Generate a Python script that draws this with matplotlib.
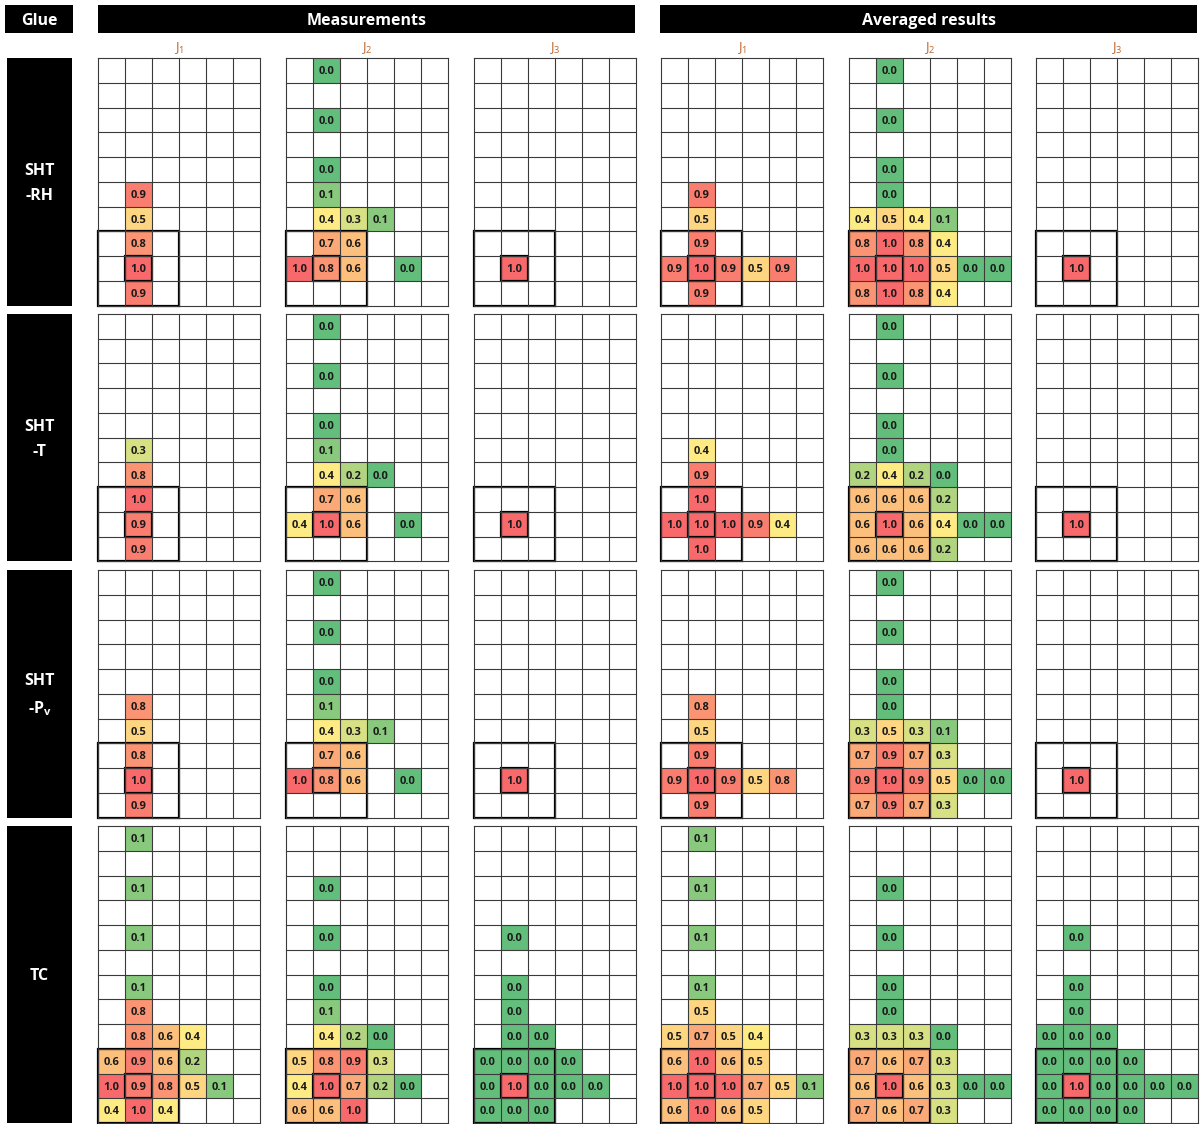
import numpy as np
import matplotlib
matplotlib.use('Agg')
import matplotlib.pyplot as plt
from matplotlib.patches import Rectangle
from matplotlib.colors import LinearSegmentedColormap, Normalize

_ = None

# ---- data: normalised values per grid (rows top->bottom, 6 columns) ----
rh_meas_j1 = [[_]*6]*5 + [
    [_, 0.9, _, _, _, _],
    [_, 0.5, _, _, _, _],
    [_, 0.8, _, _, _, _],
    [_, 1.0, _, _, _, _],
    [_, 0.9, _, _, _, _]]
rh_meas_j2 = [
    [_, 0.0, _, _, _, _],
    [_, _, _, _, _, _],
    [_, 0.0, _, _, _, _],
    [_, _, _, _, _, _],
    [_, 0.0, _, _, _, _],
    [_, 0.1, _, _, _, _],
    [_, 0.4, 0.3, 0.1, _, _],
    [_, 0.7, 0.6, _, _, _],
    [1.0, 0.8, 0.6, _, 0.0, _],
    [_, _, _, _, _, _]]
rh_meas_j3 = [[_]*6]*8 + [[_, 1.0, _, _, _, _], [_]*6]
rh_avg_j1 = [[_]*6]*5 + [
    [_, 0.9, _, _, _, _],
    [_, 0.5, _, _, _, _],
    [_, 0.9, _, _, _, _],
    [0.9, 1.0, 0.9, 0.5, 0.9, _],
    [_, 0.9, _, _, _, _]]
rh_avg_j2 = [
    [_, 0.0, _, _, _, _],
    [_, _, _, _, _, _],
    [_, 0.0, _, _, _, _],
    [_, _, _, _, _, _],
    [_, 0.0, _, _, _, _],
    [_, 0.0, _, _, _, _],
    [0.4, 0.5, 0.4, 0.1, _, _],
    [0.8, 1.0, 0.8, 0.4, _, _],
    [1.0, 1.0, 1.0, 0.5, 0.0, 0.0],
    [0.8, 1.0, 0.8, 0.4, _, _]]
rh_avg_j3 = [[_]*6]*8 + [[_, 1.0, _, _, _, _], [_]*6]

t_meas_j1 = [[_]*6]*5 + [
    [_, 0.3, _, _, _, _],
    [_, 0.8, _, _, _, _],
    [_, 1.0, _, _, _, _],
    [_, 0.9, _, _, _, _],
    [_, 0.9, _, _, _, _]]
t_meas_j2 = [
    [_, 0.0, _, _, _, _],
    [_, _, _, _, _, _],
    [_, 0.0, _, _, _, _],
    [_, _, _, _, _, _],
    [_, 0.0, _, _, _, _],
    [_, 0.1, _, _, _, _],
    [_, 0.4, 0.2, 0.0, _, _],
    [_, 0.7, 0.6, _, _, _],
    [0.4, 1.0, 0.6, _, 0.0, _],
    [_, _, _, _, _, _]]
t_meas_j3 = [[_]*6]*8 + [[_, 1.0, _, _, _, _], [_]*6]
t_avg_j1 = [[_]*6]*5 + [
    [_, 0.4, _, _, _, _],
    [_, 0.9, _, _, _, _],
    [_, 1.0, _, _, _, _],
    [1.0, 1.0, 1.0, 0.9, 0.4, _],
    [_, 1.0, _, _, _, _]]
t_avg_j2 = [
    [_, 0.0, _, _, _, _],
    [_, _, _, _, _, _],
    [_, 0.0, _, _, _, _],
    [_, _, _, _, _, _],
    [_, 0.0, _, _, _, _],
    [_, 0.0, _, _, _, _],
    [0.2, 0.4, 0.2, 0.0, _, _],
    [0.6, 0.6, 0.6, 0.2, _, _],
    [0.6, 1.0, 0.6, 0.4, 0.0, 0.0],
    [0.6, 0.6, 0.6, 0.2, _, _]]
t_avg_j3 = [[_]*6]*8 + [[_, 1.0, _, _, _, _], [_]*6]

pv_meas_j1 = [[_]*6]*5 + [
    [_, 0.8, _, _, _, _],
    [_, 0.5, _, _, _, _],
    [_, 0.8, _, _, _, _],
    [_, 1.0, _, _, _, _],
    [_, 0.9, _, _, _, _]]
pv_meas_j2 = [
    [_, 0.0, _, _, _, _],
    [_, _, _, _, _, _],
    [_, 0.0, _, _, _, _],
    [_, _, _, _, _, _],
    [_, 0.0, _, _, _, _],
    [_, 0.1, _, _, _, _],
    [_, 0.4, 0.3, 0.1, _, _],
    [_, 0.7, 0.6, _, _, _],
    [1.0, 0.8, 0.6, _, 0.0, _],
    [_, _, _, _, _, _]]
pv_meas_j3 = [[_]*6]*8 + [[_, 1.0, _, _, _, _], [_]*6]
pv_avg_j1 = [[_]*6]*5 + [
    [_, 0.8, _, _, _, _],
    [_, 0.5, _, _, _, _],
    [_, 0.9, _, _, _, _],
    [0.9, 1.0, 0.9, 0.5, 0.8, _],
    [_, 0.9, _, _, _, _]]
pv_avg_j2 = [
    [_, 0.0, _, _, _, _],
    [_, _, _, _, _, _],
    [_, 0.0, _, _, _, _],
    [_, _, _, _, _, _],
    [_, 0.0, _, _, _, _],
    [_, 0.0, _, _, _, _],
    [0.3, 0.5, 0.3, 0.1, _, _],
    [0.7, 0.9, 0.7, 0.3, _, _],
    [0.9, 1.0, 0.9, 0.5, 0.0, 0.0],
    [0.7, 0.9, 0.7, 0.3, _, _]]
pv_avg_j3 = [[_]*6]*8 + [[_, 1.0, _, _, _, _], [_]*6]

tc_meas_j1 = [
    [_, 0.1, _, _, _, _],
    [_, _, _, _, _, _],
    [_, 0.1, _, _, _, _],
    [_, _, _, _, _, _],
    [_, 0.1, _, _, _, _],
    [_, _, _, _, _, _],
    [_, 0.1, _, _, _, _],
    [_, 0.8, _, _, _, _],
    [_, 0.8, 0.6, 0.4, _, _],
    [0.6, 0.9, 0.6, 0.2, _, _],
    [1.0, 0.9, 0.8, 0.5, 0.1, _],
    [0.4, 1.0, 0.4, _, _, _]]
tc_meas_j2 = [
    [_, _, _, _, _, _],
    [_, _, _, _, _, _],
    [_, 0.0, _, _, _, _],
    [_, _, _, _, _, _],
    [_, 0.0, _, _, _, _],
    [_, _, _, _, _, _],
    [_, 0.0, _, _, _, _],
    [_, 0.1, _, _, _, _],
    [_, 0.4, 0.2, 0.0, _, _],
    [0.5, 0.8, 0.9, 0.3, _, _],
    [0.4, 1.0, 0.7, 0.2, 0.0, _],
    [0.6, 0.6, 1.0, _, _, _]]
tc_meas_j3 = [
    [_, _, _, _, _, _],
    [_, _, _, _, _, _],
    [_, _, _, _, _, _],
    [_, _, _, _, _, _],
    [_, 0.0, _, _, _, _],
    [_, _, _, _, _, _],
    [_, 0.0, _, _, _, _],
    [_, 0.0, _, _, _, _],
    [_, 0.0, 0.0, _, _, _],
    [0.0, 0.0, 0.0, 0.0, _, _],
    [0.0, 1.0, 0.0, 0.0, 0.0, _],
    [0.0, 0.0, 0.0, _, _, _]]
tc_avg_j1 = [
    [_, 0.1, _, _, _, _],
    [_, _, _, _, _, _],
    [_, 0.1, _, _, _, _],
    [_, _, _, _, _, _],
    [_, 0.1, _, _, _, _],
    [_, _, _, _, _, _],
    [_, 0.1, _, _, _, _],
    [_, 0.5, _, _, _, _],
    [0.5, 0.7, 0.5, 0.4, _, _],
    [0.6, 1.0, 0.6, 0.5, _, _],
    [1.0, 1.0, 1.0, 0.7, 0.5, 0.1],
    [0.6, 1.0, 0.6, 0.5, _, _]]
tc_avg_j2 = [
    [_, _, _, _, _, _],
    [_, _, _, _, _, _],
    [_, 0.0, _, _, _, _],
    [_, _, _, _, _, _],
    [_, 0.0, _, _, _, _],
    [_, _, _, _, _, _],
    [_, 0.0, _, _, _, _],
    [_, 0.0, _, _, _, _],
    [0.3, 0.3, 0.3, 0.0, _, _],
    [0.7, 0.6, 0.7, 0.3, _, _],
    [0.6, 1.0, 0.6, 0.3, 0.0, 0.0],
    [0.7, 0.6, 0.7, 0.3, _, _]]
tc_avg_j3 = [
    [_, _, _, _, _, _],
    [_, _, _, _, _, _],
    [_, _, _, _, _, _],
    [_, _, _, _, _, _],
    [_, 0.0, _, _, _, _],
    [_, _, _, _, _, _],
    [_, 0.0, _, _, _, _],
    [_, 0.0, _, _, _, _],
    [0.0, 0.0, 0.0, _, _, _],
    [0.0, 0.0, 0.0, 0.0, _, _],
    [0.0, 1.0, 0.0, 0.0, 0.0, 0.0],
    [0.0, 0.0, 0.0, 0.0, _, _]]

glue_labels = ['SHT\n-RH', 'SHT\n-T', 'SHT\n-P$_\\mathregular{v}$', 'TC']
section_titles = ['Measurements', 'Averaged results']
joint_labels = ['J$_\\mathregular{1}$', 'J$_\\mathregular{2}$', 'J$_\\mathregular{3}$']

grids = [
    [rh_meas_j1, rh_meas_j2, rh_meas_j3, rh_avg_j1, rh_avg_j2, rh_avg_j3],
    [t_meas_j1, t_meas_j2, t_meas_j3, t_avg_j1, t_avg_j2, t_avg_j3],
    [pv_meas_j1, pv_meas_j2, pv_meas_j3, pv_avg_j1, pv_avg_j2, pv_avg_j3],
    [tc_meas_j1, tc_meas_j2, tc_meas_j3, tc_avg_j1, tc_avg_j2, tc_avg_j3],
]

# ---- layout (pixels) ----
W, H = 1200, 1124
grid_x = [98, 286, 474, 661, 849, 1036]
grid_w = 162
group_y = [58, 314, 570, 826]
row_h = 24.75

plt.rcParams['font.family'] = ['Open Sans', 'DejaVu Sans']
plt.rcParams['mathtext.fontset'] = 'custom'
plt.rcParams['mathtext.rm'] = 'Open Sans'

cmap = LinearSegmentedColormap.from_list(
    'excel3', [(0.0, '#63BE7B'), (0.4, '#FFEB84'), (1.0, '#F8696B')])
norm = Normalize(0, 1)

fig = plt.figure(figsize=(W / 100, H / 100), dpi=100)


def px_axes(x, y, w, h):
    return fig.add_axes([x / W, 1 - (y + h) / H, w / W, h / H])


def px_box(x, y, w, h, text, fs, **kw):
    fig.add_artist(Rectangle((x / W, 1 - (y + h) / H), w / W, h / H,
                             transform=fig.transFigure, facecolor='black',
                             edgecolor='none'))
    # Open Sans sits a little high when centred, nudge down 2 px
    fig.text((x + w / 2) / W, 1 - (y + h / 2 + 2) / H, text, color='white',
             fontsize=fs, fontweight='bold', ha='center', va='center', **kw)


def draw_grid(ax, grid):
    vals = np.array([[np.nan if v is None else v for v in row] for row in grid])
    nr, nc = vals.shape
    ax.pcolormesh(np.arange(nc + 1), np.arange(nr + 1),
                  np.ma.masked_invalid(vals), cmap=cmap, norm=norm)
    ax.set_xlim(0, nc)
    ax.set_ylim(nr, 0)
    ax.axis('off')
    for i in range(nr + 1):
        ax.plot([0, nc], [i, i], color='#3a3a3a', lw=0.8, clip_on=False)
    for j in range(nc + 1):
        ax.plot([j, j], [0, nr], color='#3a3a3a', lw=0.8, clip_on=False)
    for i in range(nr):
        for j in range(nc):
            if not np.isnan(vals[i, j]):
                ax.text(j + 0.5, i + 0.55, f'{vals[i, j]:.1f}', ha='center',
                        va='center', fontsize=8, fontweight='bold',
                        color='#1a1a1a')
    # 3x3 neighbourhood around the joint and the joint cell itself
    ax.add_patch(Rectangle((0, nr - 3), 3, 3, fill=False, edgecolor='black',
                           lw=1.6, clip_on=False))
    ax.add_patch(Rectangle((1, nr - 2), 1, 1, fill=False, edgecolor='black',
                           lw=1.6, clip_on=False))


for g, row in enumerate(grids):
    nr = len(row[0])
    for k, grid in enumerate(row):
        ax = px_axes(grid_x[k], group_y[g], grid_w, nr * row_h)
        draw_grid(ax, grid)
    gh = len(row[0]) * row_h
    px_box(7, group_y[g], 65, gh, glue_labels[g], 11.5, linespacing=1.75)

# headers
px_box(5, 5, 68, 28, 'Glue', 11.5)
px_box(98, 5, 537, 28, section_titles[0], 11.5)
px_box(660, 5, 537, 28, section_titles[1], 11.5)
for k in range(6):
    fig.text((grid_x[k] + grid_w / 2) / W, 1 - 48 / H, joint_labels[k % 3],
             color='#C0652C', fontsize=9.5, ha='center', va='center')

fig.savefig('out.png', dpi=100)
